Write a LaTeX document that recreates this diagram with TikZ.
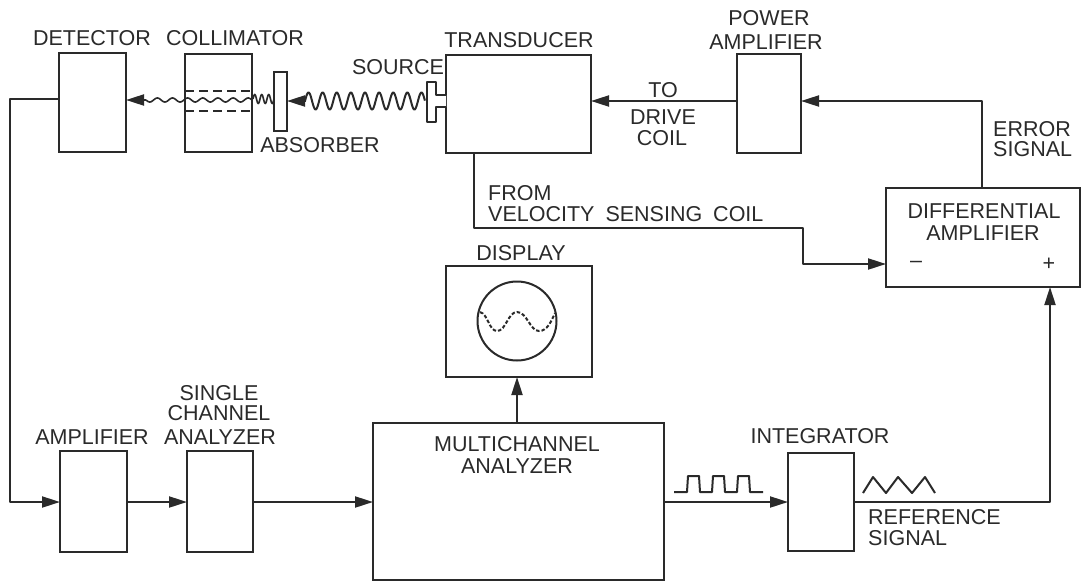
\documentclass[tikz,border=0pt]{standalone}
\usepackage{fontspec}
\setmainfont{Liberation Sans}
\usetikzlibrary{arrows.meta,positioning,calc}
\definecolor{ink}{HTML}{2A2A2A}
\newcommand{\boxat}[5]{\node[blockbox,minimum width=#4-#2,minimum height=#5-#3] (#1) at ({(#2+#4)/2},{(#3+#5)/2}) {};}
\tikzset{
  blockbox/.style={draw=ink,line width=2pt,inner sep=0pt,outer sep=0pt,fill=white},
  wire/.style={draw=ink,line width=2pt,line join=round},
  arrowwire/.style={wire,-{Triangle[length=18pt,width=11pt]}},
  label/.style={font=\fontsize{21.5}{22}\selectfont,text=ink,inner sep=0pt,align=center},
  leftlabel/.style={label,anchor=west,align=left},
  wavy/.style={draw=ink,line width=2pt,line join=round},
  thinwavy/.style={draw=ink,line width=1.6pt,line join=round},
  dashline/.style={draw=ink,line width=2pt,dash pattern=on 9pt off 5pt}
}
\begin{document}
\begin{tikzpicture}[x=1pt,y=-1pt]
\useasboundingbox (0,0) rectangle (1081,584);
\fill[white] (0,0) rectangle (1081,584);
% blocks
\boxat{det}{59}{53}{126}{152}
\boxat{col}{185}{54}{252}{152}
\boxat{abs}{274}{72}{287}{131}
\boxat{trans}{446}{55}{591}{153}
\boxat{pow}{737}{54}{801}{153}
\boxat{diff}{886}{188}{1080}{287}
\boxat{disp}{446}{266}{592}{377}
\boxat{mca}{373}{423}{664}{580}
\boxat{amp}{60}{451}{127}{552}
\boxat{sca}{187}{451}{253}{552}
\boxat{intg}{788}{453}{854}{551}
% source
\draw[wire,fill=white] (trans.west |- 0,95) -- (436,95) -- (436,82) -- (427,82) -- (427,122) -- (436,122) -- (436,107) -- (trans.west |- 0,107);
% scope
\node[draw=ink,line width=2pt,circle,minimum size=79pt,inner sep=0pt] (scope) at (517,321) {};
\draw[draw=ink,line width=2pt,dash pattern=on 3.5pt off 2pt] (480,312) .. controls (488,314) and (489,331) .. (497,331) .. controls (506,331) and (508,312) .. (517,312) .. controls (527,312) and (530,331) .. (539,331) .. controls (547,331) and (551,322) .. (555,313);
% wave coordinates
\coordinate (w1a) at (305,101);
\coordinate (w3a) at (146,100);
% waves
\draw[wavy] plot[domain=0:1,samples=300,smooth] ({305+120*\x},{101-8.5*sin(360*8.5*\x)});
\draw[thinwavy] plot[domain=0:1,samples=120,smooth] ({253+21*\x},{99-4.5*sin(360*3*\x)});
\draw[thinwavy] plot[domain=0:1,samples=200,smooth] ({146+106*\x},{100+2*sin(360*7*\x)});
\draw[arrowwire] (w1a) -- (abs.east |- w1a);
\draw[arrowwire] (w3a) -- (det.east |- w3a);
\draw[dashline] (col.west |- 0,91) -- (col.east |- 0,91);
\draw[dashline] (col.west |- 0,111) -- (col.east |- 0,111);
% connectors
\coordinate (detl) at (10,99);
\coordinate (ampl) at (10,502);
\draw[arrowwire] (det.west |- detl) -- (detl) -- (ampl) -- (amp.west |- ampl);
\draw[arrowwire] (amp.east |- 0,502) -- (sca.west |- 0,502);
\draw[arrowwire] (sca.east |- 0,502) -- (mca.west |- 0,502);
\draw[arrowwire] (mca.east |- 0,502) -- (intg.west |- 0,502);
\draw[arrowwire] (mca.north -| scope) -- (disp.south -| scope);
\coordinate (ref) at (1050,502);
\draw[arrowwire] (intg.east |- ref) -- (ref) -- (ref |- diff.south);
\coordinate (err) at (982,101);
\draw[arrowwire] (err |- diff.north) -- (err) -- (pow.east |- err);
\draw[arrowwire] (pow.west |- err) -- (trans.east |- err);
\coordinate (vel) at (474,228);
\coordinate (velb) at (803,228);
\coordinate (velc) at (803,264);
\draw[arrowwire] (vel |- trans.south) -- (vel) -- (velb) -- (velc) -- (diff.west |- velc);
% small signals
\draw[wavy] (674,492) -- (687,492) -- (688,476) -- (699,476) -- (700,492) -- (712,492) -- (713,476) -- (724,476) -- (725,492) -- (737,492) -- (738,476) -- (749,476) -- (750,492) -- (763,492);
\draw[wavy] (863,493) -- (873,477) -- (886,493) -- (898,477) -- (912,493) -- (925,477) -- (935,493);
% labels
\node[label] (tdet) at (92,38) {DETECTOR};
\node[label] (tcol) at (235,38) {COLLIMATOR};
\node[label] (tsrc) at (398,67) {SOURCE};
\node[label] (tabs) at (320,145) {ABSORBER};
\node[label] (ttra) at (519,40) {TRANSDUCER};
\node[label] (tpow) at (769,18) {POWER};
\node[label] (tpow2) at (766,42) {AMPLIFIER};
\node[label] (tto) at (663,90) {TO};
\node[label] (tdrv) at (663,117) {DRIVE};
\node[label] (tcoi) at (662,138) {COIL};
\node[leftlabel] (tfro) at (488,193) {FROM};
\node[leftlabel] (tvel) at (488,214) {VELOCITY\hspace{5pt} SENSING\hspace{5pt} COIL};
\node[leftlabel] (terr) at (993,129) {ERROR};
\node[leftlabel] (tsig) at (993,149) {SIGNAL};
\node[label] (tdis) at (521,253) {DISPLAY};
\node[label] (tdif) at (984,211) {DIFFERENTIAL};
\node[label] (tdif2) at (983,233) {AMPLIFIER};
\node[label] (tmin) at (916,264) {–};
\node[label] (tplu) at (1049,264) {+};
\node[label] (tmca) at (517,444) {MULTICHANNEL};
\node[label] (tmca2) at (517,466) {ANALYZER};
\node[label] (tamp) at (92,437) {AMPLIFIER};
\node[label] (tsca) at (219,393) {SINGLE};
\node[label] (tsca2) at (219,413) {CHANNEL};
\node[label] (tsca3) at (220,437) {ANALYZER};
\node[label] (tint) at (820,436) {INTEGRATOR};
\node[leftlabel] (tref) at (868,517) {REFERENCE};
\node[leftlabel] (tsig2) at (868,538) {SIGNAL};
\end{tikzpicture}
\end{document}
